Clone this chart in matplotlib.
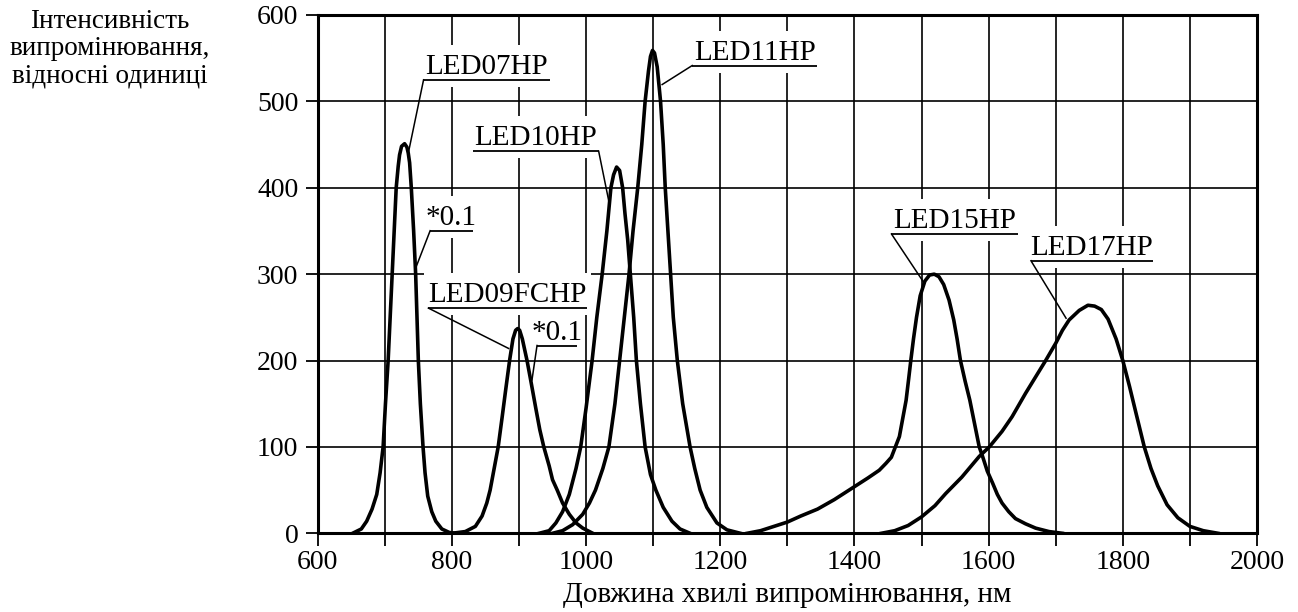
import matplotlib
matplotlib.use("Agg")
import matplotlib.pyplot as plt
from matplotlib.patches import Rectangle

plt.rcParams['font.family'] = ['Liberation Serif', 'DejaVu Serif']

# ---------------- data ----------------
led07_x = [652, 665, 673, 681, 688, 693, 697.5, 701, 705, 708, 711, 714, 717, 720, 722, 725, 729.5,
           733, 735, 737, 739.5, 743, 746, 750, 753, 757, 760, 764, 770, 776, 785, 796, 805]
led07_y = [0, 5, 14, 28, 45, 70, 100, 150, 200, 250, 300, 350, 400, 425, 438, 448, 451,
           447, 440, 429, 400, 350, 300, 200, 150, 100, 70, 43, 25, 14, 5, 1, 0]

led09_x = [800, 820, 835, 845, 852, 857, 863, 869, 875, 880, 886, 891, 895, 898,
           901, 905, 912, 918, 925, 931, 937, 945, 950, 957, 965, 975, 985, 995, 1010]
led09_y = [0, 2, 8, 20, 35, 50, 75, 100, 135, 165, 200, 225, 235, 237,
           235, 225, 200, 175, 145, 120, 100, 78, 62, 50, 35, 22, 12, 6, 0]

led10_x = [930, 945, 955, 965, 975, 985, 992, 1000, 1009, 1016, 1024, 1031, 1037, 1041, 1045.5,
           1050, 1054.5, 1058, 1062, 1066, 1071, 1075, 1081, 1088, 1096, 1104, 1115, 1128, 1140, 1155]
led10_y = [0, 3, 12, 25, 45, 75, 100, 145, 200, 250, 300, 350, 400, 415, 424,
           420, 400, 370, 340, 300, 250, 200, 150, 100, 68, 50, 30, 14, 5, 0]

led11_x = [950, 965, 980, 995, 1005, 1014, 1025, 1034, 1043, 1050, 1057, 1064, 1070, 1077, 1083,
           1088, 1093, 1096, 1099, 1102, 1106, 1111, 1115, 1118, 1122, 1126, 1130, 1136,
           1144, 1155, 1162, 1170, 1180, 1195, 1210, 1230]
led11_y = [0, 3, 10, 22, 35, 50, 75, 100, 150, 200, 250, 300, 350, 400, 450,
           500, 535, 552, 559, 556, 540, 500, 450, 400, 350, 300, 250, 200,
           150, 100, 75, 50, 30, 12, 4, 0]

led15_x = [1240, 1260, 1280, 1300, 1320, 1345, 1370, 1400, 1420, 1437, 1447, 1455, 1459, 1463, 1467,
           1472, 1477, 1481, 1484, 1488, 1492.5, 1498, 1505, 1512, 1519, 1526, 1533, 1541, 1548,
           1553, 1558, 1565, 1572, 1579, 1586, 1591, 1598, 1606, 1613, 1620, 1630, 1640, 1655,
           1670, 1690, 1710]
led15_y = [0, 3, 8, 13, 20, 28, 39, 54, 64, 73, 81, 88, 96, 104, 112,
           133, 154, 180, 200, 225, 250, 275, 292, 299, 300, 297, 288, 270, 247,
           225, 200, 176, 154, 127, 100, 89, 72, 58, 45, 35, 25, 17, 11,
           6, 2, 0]

led17_x = [1440, 1460, 1480, 1500, 1520, 1536, 1560, 1586, 1601, 1620, 1635, 1655, 1670, 1685,
           1700, 1710, 1720, 1735, 1748, 1758, 1768, 1778, 1790, 1800, 1810, 1820, 1832, 1842,
           1852, 1866, 1882, 1900, 1920, 1942]
led17_y = [0, 3, 9, 19, 32, 46, 65, 89, 100, 118, 135, 162, 181, 200,
           220, 235, 247, 258, 264, 263, 259, 248, 225, 200, 170, 138, 100, 75,
           55, 33, 18, 8, 3, 0]

x_ticks_major = [600, 800, 1000, 1200, 1400, 1600, 1800, 2000]
x_ticks_minor = [700, 900, 1100, 1300, 1500, 1700, 1900]
y_ticks = [0, 100, 200, 300, 400, 500, 600]

xlabel = "Довжина хвилі випромінювання, нм"
ylabel = "Інтенсивність\nвипромінювання,\nвідносні одиниці"

# label text, underline (x_left, x_right, y), leader side, leader tip
labels = [
    ("LED07HP",   757.8, 945.7, 525.0, "left",  (735.0, 440.0)),
    ("*0.1",      767.6, 831.3, 350.3, "left",  (745.0, 305.0)),
    ("LED10HP",   831.3, 1018.8, 442.2, "right", (1033.5, 386.0)),
    ("LED09FCHP", 765.0, 1001.5, 260.7, "left",  (884.5, 214.0)),
    ("*0.1",      926.9, 986.6, 217.4, "left",  (919.4, 177.6)),
    ("LED11HP",   1158.2, 1344.8, 541.5, "left", (1113.4, 519.5)),
    ("LED15HP",   1455.2, 1643.3, 346.5, "left", (1503.9, 289.7)),
    ("LED17HP",   1663.1, 1844.8, 315.5, "left", (1715.4, 249.0)),
]

# ---------------- figure ----------------
fig = plt.figure(figsize=(12.98, 6.12), dpi=100)
ax = fig.add_axes([317.7 / 1298, (612 - 533.3) / 612, (1257 - 317.7) / 1298, (533.3 - 15) / 612])
ax.set_xlim(600, 2000)
ax.set_ylim(0, 600)

ax.set_xticks(x_ticks_major)
ax.set_xticks(x_ticks_minor, minor=True)
ax.set_yticks(y_ticks)
ax.tick_params(axis='both', which='both', direction='out', length=9, width=1.3,
               labelsize=20, colors='black')
ax.tick_params(axis='x', pad=3)
ax.tick_params(axis='y', pad=5)
ax.grid(True, which='both', color='black', linewidth=1.2, zorder=1)
ax.set_axisbelow(True)
for s in ax.spines.values():
    s.set_linewidth(2.2)
    s.set_zorder(6)

PXX = 1400 / 939.3   # nm per pixel
PXY = 600 / 518.3    # units per pixel

for text, xl, xr, yu, side, tip in labels:
    ax.add_patch(Rectangle((xl - 4 * PXX, yu - 7 * PXY), (xr - xl) + 8 * PXX, 42 * PXY,
                           facecolor='white', edgecolor='none', zorder=2))
    ax.plot([xl, xr], [yu, yu], color='black', lw=1.3, zorder=3, solid_capstyle='butt')
    x0 = xl if side == "left" else xr
    ax.plot([x0, tip[0]], [yu, tip[1]], color='black', lw=1.1, zorder=3)
    ax.text((xl + xr) / 2, yu + 6 * PXY, text, ha='center', va='baseline',
            fontsize=21, zorder=3)

for xs, ys in [(led07_x, led07_y), (led09_x, led09_y), (led10_x, led10_y),
               (led11_x, led11_y), (led15_x, led15_y), (led17_x, led17_y)]:
    ax.plot(xs, ys, color='black', lw=2.6, zorder=4, solid_joinstyle='round')

ax.set_xlabel(xlabel, fontsize=21, labelpad=5)
fig.text(110 / 1298, 1 - 9 / 612, ylabel, ha='center', va='top', fontsize=19.5,
         linespacing=1.12)

fig.savefig("out.png", dpi=100)
